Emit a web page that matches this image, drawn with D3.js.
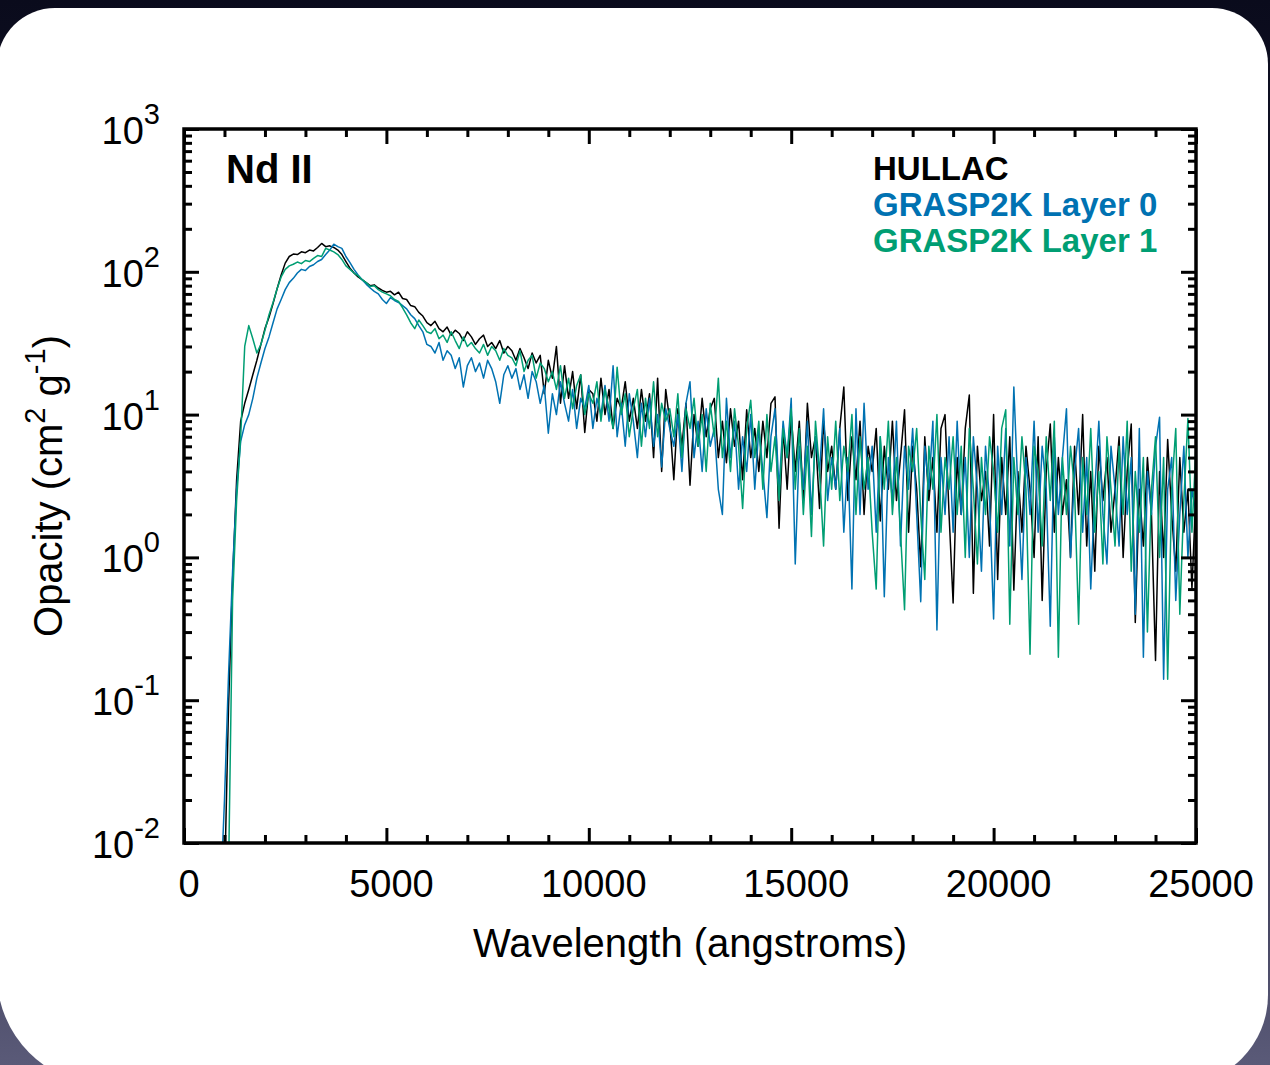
<!DOCTYPE html>
<html>
<head>
<meta charset="utf-8">
<script src="https://cdn.jsdelivr.net/npm/d3@7"></script>
<style>
  body { margin: 0; background: #0b0c1e; }
  svg { display: block; font-family: "Liberation Sans", Arial, Helvetica, sans-serif; }
</style>
</head>
<body>
<div id="chart"></div>
<script>
// wavelength grid (angstroms)
var wavelength = [
  900,1000,1100,1200,1300,1400,1500,1600,1700,1800,1900,2000,
  2100,2200,2300,2400,2500,2600,2700,2800,2900,3000,
  3100,3200,3300,3400,3500,3600,3700,3800,3900,4000,
  4100,4200,4300,4400,4500,4600,4700,4800,4900,5000,
  5100,5200,5300,5400,5500,5600,5700,5800,5900,6000,
  6100,6200,6300,6400,6500,6600,6700,6800,6900,7000,
  7100,7200,7300,7400,7500,7600,7700,7800,7900,8000,
  8100,8200,8300,8400,8500,8600,8700,8800,8900,9000,
  9100,9200,9300,9400,9500,9600,9700,9800,9900,10000,
  10100,10200,10300,10400,10500,10600,10700,10800,10900,11000,
  11100,11200,11300,11400,11500,11600,11700,11800,11900,12000,
  12100,12200,12300,12400,12500,12600,12700,12800,12900,13000,
  13100,13200,13300,13400,13500,13600,13700,13800,13900,14000,
  14100,14200,14300,14400,14500,14600,14700,14800,14900,15000,
  15100,15200,15300,15400,15500,15600,15700,15800,15900,16000,
  16100,16200,16300,16400,16500,16600,16700,16800,16900,17000,
  17100,17200,17300,17400,17500,17600,17700,17800,17900,18000,
  18100,18200,18300,18400,18500,18600,18700,18800,18900,19000,
  19100,19200,19300,19400,19500,19600,19700,19800,19900,20000,
  20100,20200,20300,20400,20500,20600,20700,20800,20900,21000,
  21100,21200,21300,21400,21500,21600,21700,21800,21900,22000,
  22100,22200,22300,22400,22500,22600,22700,22800,22900,23000,
  23100,23200,23300,23400,23500,23600,23700,23800,23900,24000,
  24100,24200,24300,24400,24500,24600,24700,24800,24900,25000
];

// opacity (cm^2 g^-1)
var hullac = [
  0.002,0.005,0.09,0.7,3.5,9,12,15,19,24,31,40,
  48,60,76,95,115,128,133,132,138,136,
  142,140,148,158,150,152,148,142,132,118,
  106,98,92,88,84,80,81,77,74,72,
  73,69,72,65,64,58,57,52,49,44,
  42,45,40,38,41,36,39,37,33,38,
  35,31,34,36,30,32,29,33,27,30,
  28,24,29,25,21,27,23,26,14,24,
  18,30,12,22,13,20,11,19,7.5,15,
  14,9,18,10,15,8,13,11,17,9,
  13,8,15,9,14,5,18,4,15,9,
  3.5,11,6,12,3.2,10,6,13,7,11,
  13,5,9,4.6,11,6,9,3.5,10.8,5,
  8,4,9,5,12,13.3,1.6,8,3,10,
  4,9,2.5,12,5,7,2.2,9,4,6,
  3,8,15.6,2.5,7,3.5,9,2,6,4,
  8,1.8,6,3,9,2.5,5,10.8,1.5,6,
  3,0.86,7,2.5,5,1.5,8,10,2,0.48,
  5,2,8,13.7,0.56,6,2.5,4,1.2,10,
  0.7,5,2,7,0.59,4,1.5,6,3,1.0,
  7,0.5,4,8.6,1.5,5,2,3.5,1,6,
  2,10,1.2,4,0.8,6,2.5,5,1.5,3,
  7,1,4,8.6,0.35,3,1.2,5,2,0.19,
  4,1,6.7,2,0.8,5,1.5,3,0.6,3
];

var grasp2kLayer0 = [
  0.004,0.02,0.15,0.8,3,6.5,8.5,10,13,18,23,29,
  35,44,55,64,75,84,90,98,104,102,
  109,112,118,122,132,142,156,150,146,128,
  116,104,95,88,82,77,73,70,64,60,
  66,63,61,58,55,50,47,42,38,31,
  30,27,32,24,28,26,21,25,15.6,22,
  25,20,23,18,24,21,17,12,19,22,
  18,21,15,19,13,20,17,12,16,7.4,
  14,10,17,12,9,15,8,13,11,16,
  8,13,10,16,9,22,7,12,6,14,
  9,5,12,7,13,6,10,4.3,11,8,
  6,10,4,12,17,5,9,4,11,6,
  8,3,2.0,13,5,9,3,7,4,10,
  3,8,4,1.9,7,11,3,9,5,13,
  0.9,6,3,9,2,7,4,11,2.5,5,
  3,8,1.5,5,0.6,11,2,12,3,6,
  1.5,7,0.53,5,2.5,9,1.2,6,3,8,
  2,0.49,6,3,9,0.31,5,2,7,1.5,
  9,2,5,1,7,3,0.8,6,2.5,0.37,
  6,2,8,1.2,15.6,3,0.7,5,2,9,
  1.5,6,3,0.33,7,2,5,11,1,4,
  8,1.5,5,0.6,3,9,2,0.9,6,3,
  1.2,7,2,5,0.4,8,0.2,4,2,6,
  9.6,0.14,3,5,0.5,2,6,1,3,2
];

var grasp2kLayer1 = [
  0.001,0.002,0.006,0.5,2.5,7,30,42,34,27,31,39,
  50,61,76,92,104,110,113,117,114,120,
  118,124,130,128,146,142,138,132,122,110,
  104,98,94,88,84,79,80,75,72,70,
  68,64,62,56,50,44,40,46,42,38,
  37,40,34,36,32,38,33,29,35,30,
  32,29,27,31,26,30,28,24,29,26,
  25,22,28,20,24,26,18,23,21,17,
  20,15,22,13,18,11,16,19,10,14,
  12,17,9,15,11,8,21.5,10,14,7,
  11,15,6,13,8,17,7,12,9,11,
  7,14,5,11,8,13,6,10,4,12,
  7,18,5,9,4,11,6,2.2,8,12.6,
  5,9,3,10,4,7,2.5,8,5,11,
  3,8,2,6,1.4,9,4,1.2,7,3,
  9,2.5,6,4,10,2,7,3,5,1.5,
  0.6,7,3,9,2,5,1.5,0.43,6,4,
  8,2,0.7,6,3,10,1.5,5,3,7,
  2,6,1,8,3,0.9,5,2,7,4,
  1.5,8,10.8,0.34,5,2,7,3,0.21,6,
  4,1.2,7,2.5,9,0.2,5,2,6,3,
  0.34,5,2,8,1.5,4,0.9,7,3,1.2,
  6,2,9,0.8,4,1.5,5,0.3,3,7,
  1,5,0.14,3,8,0.4,2.5,9.4,1.5,6
];

var seriesNames = ['HULLAC', 'GRASP2K Layer 0', 'GRASP2K Layer 1'];
var seriesColors = ['#000000', '#0072b2', '#009e73'];
var xMajorTicks = [0, 5000, 10000, 15000, 20000, 25000];
var yExponents = [3, 2, 1, 0, -1, -2];
var panelLabel = 'Nd II';

var W = 1270, H = 1065;
var plot = {left: 184, right: 1196, top: 129, bottom: 843};

var svg = d3.select('#chart').append('svg')
  .attr('width', W)
  .attr('height', H);

var defs = svg.append('defs');
var grad = defs.append('linearGradient')
  .attr('id', 'bg')
  .attr('x1', 0).attr('y1', 0).attr('x2', 0).attr('y2', 1);
grad.append('stop').attr('offset', '0%').attr('stop-color', '#0a0b1c');
grad.append('stop').attr('offset', '60%').attr('stop-color', '#22223a');
grad.append('stop').attr('offset', '100%').attr('stop-color', '#5a5a78');

svg.append('rect')
  .attr('width', W).attr('height', H)
  .attr('fill', 'url(#bg)');

// white card with rounded corners
var L = -3, T = 8, R = 1268, B = 1085;
var card = d3.path();
card.moveTo(L + 58, T);
card.lineTo(R - 56, T);
card.arcTo(R, T, R, T + 56, 56);
card.lineTo(R, B - 90);
card.arcTo(R, B, R - 90, B, 90);
card.lineTo(L + 110, B);
card.arcTo(L, B, L, B - 110, 110);
card.lineTo(L, T + 58);
card.arcTo(L, T, L + 58, T, 58);
card.closePath();
svg.append('path').attr('d', card.toString()).attr('fill', '#ffffff');

var x = d3.scaleLinear().domain([0, 25000]).range([plot.left, plot.right]);
var y = d3.scaleLog().domain([1e-2, 1e3]).range([plot.bottom, plot.top]);

defs.append('clipPath').attr('id', 'clip')
  .append('rect')
  .attr('x', plot.left).attr('y', plot.top)
  .attr('width', plot.right - plot.left)
  .attr('height', plot.bottom - plot.top);

// data lines
var series = [hullac, grasp2kLayer0, grasp2kLayer1].map(function(vals, i) {
  return {
    name: seriesNames[i],
    color: seriesColors[i],
    values: wavelength.map(function(w, j) { return {w: w, v: vals[j]}; })
  };
});

var line = d3.line()
  .x(function(d) { return x(d.w); })
  .y(function(d) { return y(d.v); });

svg.append('g')
  .attr('clip-path', 'url(#clip)')
  .selectAll('path')
  .data(series)
  .enter().append('path')
    .attr('d', function(d) { return line(d.values); })
    .attr('fill', 'none')
    .attr('stroke', function(d) { return d.color; })
    .attr('stroke-width', 1.5)
    .attr('stroke-linejoin', 'round');

// ticks
var xMinor = d3.range(0, 25001, 1000).filter(function(v) { return v % 5000 !== 0; });
var yMinor = [];
yExponents.forEach(function(e) {
  if (e === 3) return;
  for (var k = 2; k <= 9; k++) yMinor.push(k * Math.pow(10, e));
});
var yMajor = yExponents.map(function(e) { return Math.pow(10, e); });

function styleAxis(g) {
  g.select('.domain').remove();
  g.selectAll('.tick line').attr('stroke', '#000').attr('stroke-width', 3);
  g.selectAll('.tick text').remove();
}

svg.append('g').attr('transform', 'translate(0,' + plot.bottom + ')')
  .call(d3.axisBottom(x).tickValues(xMajorTicks).tickSize(-15)).call(styleAxis);
svg.append('g').attr('transform', 'translate(0,' + plot.bottom + ')')
  .call(d3.axisBottom(x).tickValues(xMinor).tickSize(-8)).call(styleAxis);
svg.append('g').attr('transform', 'translate(0,' + plot.top + ')')
  .call(d3.axisTop(x).tickValues(xMajorTicks).tickSize(-15)).call(styleAxis);
svg.append('g').attr('transform', 'translate(0,' + plot.top + ')')
  .call(d3.axisTop(x).tickValues(xMinor).tickSize(-8)).call(styleAxis);

svg.append('g').attr('transform', 'translate(' + plot.left + ',0)')
  .call(d3.axisLeft(y).tickValues(yMajor).tickSize(-15)).call(styleAxis);
svg.append('g').attr('transform', 'translate(' + plot.left + ',0)')
  .call(d3.axisLeft(y).tickValues(yMinor).tickSize(-8)).call(styleAxis);
svg.append('g').attr('transform', 'translate(' + plot.right + ',0)')
  .call(d3.axisRight(y).tickValues(yMajor).tickSize(-15)).call(styleAxis);
svg.append('g').attr('transform', 'translate(' + plot.right + ',0)')
  .call(d3.axisRight(y).tickValues(yMinor).tickSize(-8)).call(styleAxis);

// frame
svg.append('rect')
  .attr('x', plot.left).attr('y', plot.top)
  .attr('width', plot.right - plot.left)
  .attr('height', plot.bottom - plot.top)
  .attr('fill', 'none')
  .attr('stroke', '#000')
  .attr('stroke-width', 3.5);

// x tick labels
svg.append('g').selectAll('text')
  .data(xMajorTicks)
  .enter().append('text')
    .attr('x', function(d) { return x(d) + 5; })
    .attr('y', plot.bottom + 54)
    .attr('text-anchor', 'middle')
    .attr('font-size', 38)
    .attr('fill', '#000')
    .text(function(d) { return d; });

// y tick labels (10^n)
var yl = svg.append('g').selectAll('text')
  .data(yExponents)
  .enter().append('text')
    .attr('x', 160)
    .attr('y', function(d) { return y(Math.pow(10, d)) + 15; })
    .attr('text-anchor', 'end')
    .attr('font-size', 38)
    .attr('fill', '#000');
yl.append('tspan').text('10');
yl.append('tspan')
  .attr('dy', -20)
  .attr('font-size', 29)
  .text(function(d) { return d < 0 ? '-' + (-d) : d; });

// axis titles
svg.append('text')
  .attr('x', (plot.left + plot.right) / 2)
  .attr('y', 957)
  .attr('text-anchor', 'middle')
  .attr('font-size', 40)
  .text('Wavelength (angstroms)');

var yt = svg.append('text')
  .attr('transform', 'translate(62,' + 486 + ') rotate(-90)')
  .attr('text-anchor', 'middle')
  .attr('font-size', 40);
yt.append('tspan').text('Opacity (cm');
yt.append('tspan').attr('dy', -17).attr('font-size', 29).text('2');
yt.append('tspan').attr('dy', 17).text(' g');
yt.append('tspan').attr('dy', -17).attr('font-size', 29).text('-1');
yt.append('tspan').attr('dy', 17).text(')');

// panel label
svg.append('text')
  .attr('x', 226)
  .attr('y', 183)
  .attr('font-size', 40)
  .attr('font-weight', 'bold')
  .text(panelLabel);

// legend
svg.append('g').selectAll('text')
  .data(series)
  .enter().append('text')
    .attr('x', 873)
    .attr('y', function(d, i) { return 180 + i * 36; })
    .attr('font-size', 33)
    .attr('font-weight', 'bold')
    .attr('fill', function(d) { return d.color; })
    .text(function(d) { return d.name; });
</script>
</body>
</html>
